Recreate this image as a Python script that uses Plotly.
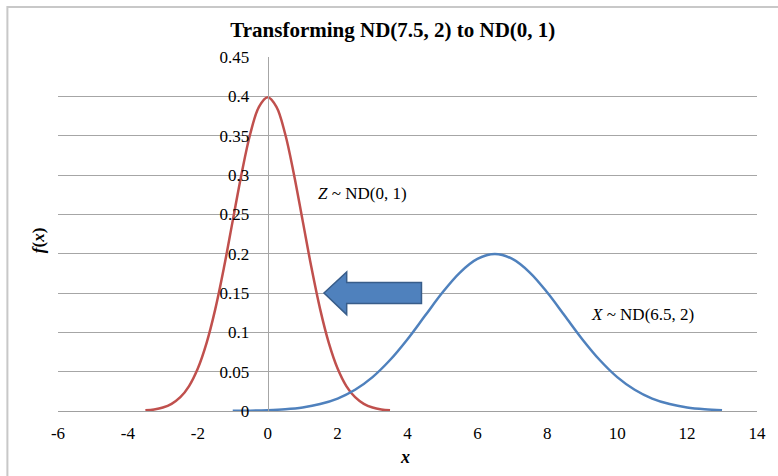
import plotly.graph_objects as go

# Red curve: Z ~ ND(0, 1)
z_x = [-3.5, -3.25, -3.0, -2.75, -2.5, -2.25, -2.0, -1.75, -1.5, -1.25, -1.0, -0.75, -0.5, -0.25,
       0.0, 0.25, 0.5, 0.75, 1.0, 1.25, 1.5, 1.75, 2.0, 2.25, 2.5, 2.75, 3.0, 3.25, 3.5]
z_y = [0.0009, 0.0020, 0.0044, 0.0091, 0.0175, 0.0317, 0.0540, 0.0863, 0.1295, 0.1826, 0.2420, 0.3011, 0.3521, 0.3867,
       0.3989, 0.3867, 0.3521, 0.3011, 0.2420, 0.1826, 0.1295, 0.0863, 0.0540, 0.0317, 0.0175, 0.0091, 0.0044, 0.0020, 0.0009]

# Blue curve: X ~ ND(6.5, 2)
x_x = [-1.0, -0.5, 0.0, 0.5, 1.0, 1.5, 2.0, 2.5, 3.0, 3.5, 4.0, 4.5, 5.0, 5.5, 6.0, 6.5,
       7.0, 7.5, 8.0, 8.5, 9.0, 9.5, 10.0, 10.5, 11.0, 11.5, 12.0, 12.5, 13.0]
x_y = [0.0002, 0.0004, 0.0010, 0.0022, 0.0045, 0.0088, 0.0158, 0.0270, 0.0431, 0.0648, 0.0913, 0.1210, 0.1506, 0.1760, 0.1933, 0.1995,
       0.1933, 0.1760, 0.1506, 0.1210, 0.0913, 0.0648, 0.0431, 0.0270, 0.0158, 0.0088, 0.0045, 0.0022, 0.0010]

x_ticks = [-6, -4, -2, 0, 2, 4, 6, 8, 10, 12, 14]
y_ticks = [0, 0.05, 0.1, 0.15, 0.2, 0.25, 0.3, 0.35, 0.4, 0.45]
y_tick_text = ["0", "0.05", "0.1", "0.15", "0.2", "0.25", "0.3", "0.35", "0.4", "0.45"]

FONT = "Liberation Serif, Times New Roman, serif"

fig = go.Figure()
fig.add_trace(go.Scatter(x=z_x, y=z_y, mode="lines", line=dict(color="#c0504d", width=2.5, shape="spline"),
                         showlegend=False, hoverinfo="skip"))
fig.add_trace(go.Scatter(x=x_x, y=x_y, mode="lines", line=dict(color="#4f81bd", width=2.5, shape="spline"),
                         showlegend=False, hoverinfo="skip"))

# Arrow pointing left
arrow_path = ("M 1.61 0.150 L 2.26 0.1767 L 2.26 0.1633 L 4.40 0.1633 "
              "L 4.40 0.1365 L 2.26 0.1365 L 2.26 0.1225 Z")
fig.add_shape(type="path", path=arrow_path, xref="x", yref="y",
              fillcolor="#4f81bd", line=dict(color="#385d8a", width=1.5), layer="above")

# outer chart border
fig.add_shape(type="rect", xref="paper", yref="paper", x0=-0.0724, x1=1.06, y0=-0.25, y1=1.141,
              line=dict(color="#c8c8c8", width=2), fillcolor="rgba(0,0,0,0)", layer="below")

fig.add_annotation(x=1.386, y=0.277, xref="x", yref="y", text="<i>Z</i> ~ ND(0, 1)", showarrow=False,
                   xanchor="left", yanchor="middle", font=dict(family=FONT, size=17, color="black"))
fig.add_annotation(x=9.2, y=0.1233, xref="x", yref="y", text="<i>X</i> ~ ND(6.5, 2)", showarrow=False,
                   xanchor="left", yanchor="middle", font=dict(family=FONT, size=17, color="black"))

# axis titles
fig.add_annotation(x=-0.0284, y=0.483, xref="paper", yref="paper", text="<b><i>f</i>(<i>x</i>)</b>",
                   textangle=-90, showarrow=False, xanchor="center", yanchor="middle",
                   font=dict(family=FONT, size=17, color="black"))
fig.add_annotation(x=0.497, y=-0.13, xref="paper", yref="paper", text="<b><i>x</i></b>",
                   showarrow=False, xanchor="center", yanchor="middle",
                   font=dict(family=FONT, size=18, color="black"))

fig.update_layout(
    width=778, height=476,
    margin=dict(l=58, r=16, t=57, b=65),
    font=dict(family=FONT, size=17, color="black"),
    paper_bgcolor="white", plot_bgcolor="white",
    title=dict(text="<b>Transforming ND(7.5, 2) to ND(0, 1)</b>", x=0.479, xref="paper", xanchor="center",
               y=1 - 30 / 476, yref="container", yanchor="middle",
               font=dict(family=FONT, size=21, color="black")),
    xaxis=dict(range=[-6, 14], tickvals=x_ticks, ticktext=[str(v) for v in x_ticks],
               showgrid=False, zeroline=False, showline=True, linecolor="#a0a0a0", linewidth=1,
               ticks="", ticklabelstandoff=7,
               tickfont=dict(family=FONT, size=17, color="black"), fixedrange=True),
    yaxis=dict(range=[0, 0.45], tickvals=y_ticks, ticktext=y_tick_text,
               anchor="free", position=0.3,
               showgrid=True, gridcolor="#a6a6a6", gridwidth=1, zeroline=False,
               showline=True, linecolor="#a6a6a6", linewidth=1,
               ticks="", ticklabelstandoff=15,
               tickfont=dict(family=FONT, size=17, color="black"), fixedrange=True),
)

fig.write_html("out.html")
